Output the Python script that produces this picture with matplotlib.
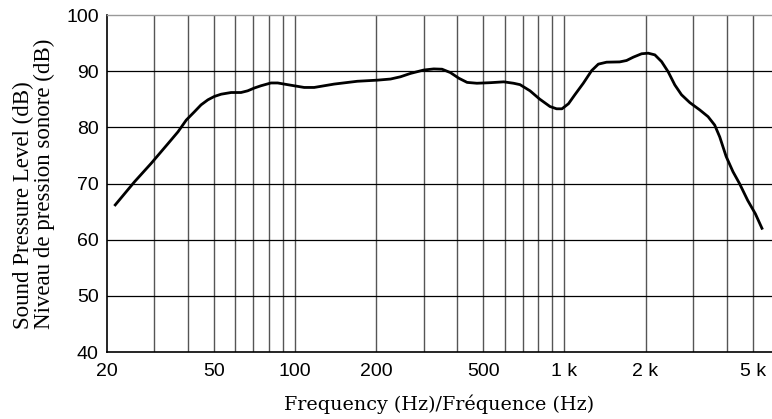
import matplotlib
matplotlib.use("Agg")
import matplotlib.pyplot as plt
from matplotlib.ticker import FixedLocator, NullLocator

freq_hz = [21.3, 25.3, 29.2, 33.7, 36.7, 39.4, 42.3, 44.7, 47.4, 50.1, 53.1, 57.8, 62.9,
           66.6, 70.5, 74.6, 81.3, 86.1, 91, 99.1, 108, 117.6, 139.5, 170, 202, 226, 246,
           268, 300, 327, 351, 377, 405, 435, 473, 531, 595, 647, 684, 745, 808, 884,
           935, 979, 1035, 1093, 1175, 1262, 1336, 1434, 1604, 1701, 1803, 1935, 2047,
           2167, 2295, 2427, 2570, 2721, 2922, 3181, 3415, 3614, 3773, 3987, 4226, 4468,
           4792, 5119, 5441]
spl_db = [66.0, 70.3, 73.6, 77.1, 79.2, 81.3, 82.8, 84.0, 84.9, 85.5, 85.9, 86.2, 86.2,
          86.5, 87.0, 87.4, 87.9, 87.9, 87.7, 87.4, 87.1, 87.1, 87.7, 88.2, 88.4, 88.6, 89.0,
          89.6, 90.2, 90.4, 90.35, 89.75, 88.75, 88.0, 87.85, 87.95, 88.1, 87.85, 87.6, 86.5,
          85.05, 83.7, 83.3, 83.3, 84.2, 85.8, 87.85, 90.1, 91.25, 91.6, 91.65, 91.9, 92.5,
          93.1, 93.2, 92.9, 91.7, 89.9, 87.55, 85.8, 84.4, 83.1, 81.9, 80.4, 78.3, 74.8,
          72.1, 70.0, 67.0, 64.6, 61.8]

x_grid = [30, 40, 50, 60, 70, 80, 90, 100, 200, 300, 400, 500, 600, 700, 800, 900,
          1000, 2000, 3000, 4000, 5000]
x_ticks = [20, 50, 100, 200, 500, 1000, 2000, 5000]
x_ticklabels = ["20", "50", "100", "200", "500", "1 k", "2 k", "5 k"]
y_ticks = [40, 50, 60, 70, 80, 90, 100]

fig = plt.figure(figsize=(7.72, 4.19), dpi=100)
ax = fig.add_axes([107 / 772, 67 / 419, 1 - 107 / 772, 337 / 419])
ax.set_xscale("log")
ax.set_xlim(20, 5900)
ax.set_ylim(40, 100)

for xv in x_grid:
    ax.axvline(xv, color="#555555", lw=1.0, zorder=1)
for yv in y_ticks[1:-1]:
    ax.axhline(yv, color="black", lw=0.9, zorder=1)

ax.plot(freq_hz, spl_db, color="black", lw=2.0, solid_joinstyle="round",
        solid_capstyle="butt", zorder=3)

ax.xaxis.set_major_locator(FixedLocator(x_ticks))
ax.xaxis.set_minor_locator(NullLocator())
ax.set_xticklabels(x_ticklabels)
ax.set_yticks(y_ticks)
ax.tick_params(axis="both", length=0, labelsize=14)
ax.tick_params(axis="x", pad=8)
ax.tick_params(axis="y", pad=6)
for lab in ax.get_xticklabels() + ax.get_yticklabels():
    lab.set_fontfamily("Liberation Sans")

for s in ["left", "bottom"]:
    ax.spines[s].set_color("black")
    ax.spines[s].set_linewidth(1.2)
ax.spines["top"].set_color("#999999")
ax.spines["top"].set_linewidth(1.0)
ax.spines["right"].set_visible(False)

ax.set_xlabel("Frequency (Hz)/Fréquence (Hz)", fontfamily="DejaVu Serif",
              fontsize=13.8, labelpad=10)
ax.set_ylabel("Sound Pressure Level (dB)\nNiveau de pression sonore (dB)",
              fontfamily="Liberation Serif", fontsize=16.5, labelpad=8,
              linespacing=1.0, multialignment="left")

fig.savefig("out.png", dpi=100)
